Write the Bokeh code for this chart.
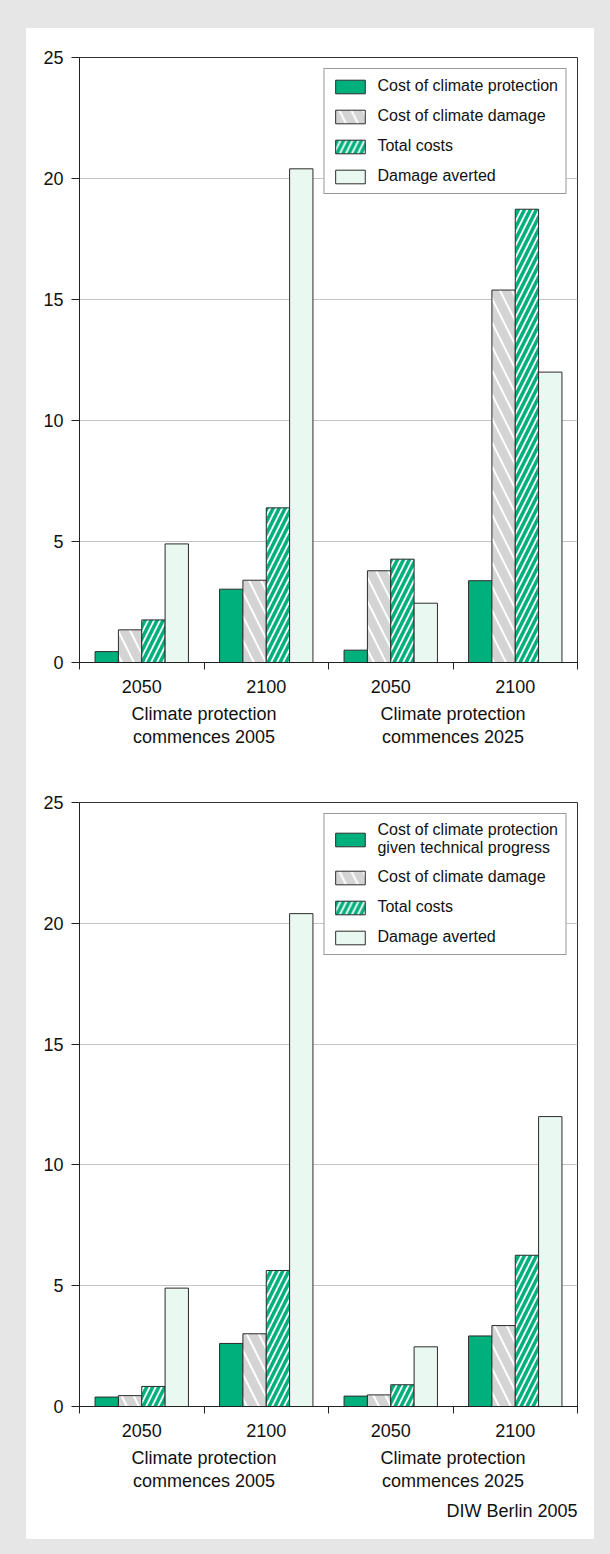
from bokeh.plotting import figure
from bokeh.models import (Range1d, LinearAxis, FixedTicker, Title, ColumnDataSource)
from bokeh.transform import dodge
from bokeh.layouts import column
from bokeh.embed import file_html
from bokeh.resources import INLINE

# ---- data ----
groups = ["Climate protection\ncommences 2005", "Climate protection\ncommences 2025"]
years = ["2050", "2100"]

# chart 1
protection_1 = [0.45, 3.03, 0.51, 3.38]
damage_1 = [1.35, 3.40, 3.79, 15.39]
total_1 = [1.76, 6.39, 4.27, 18.73]
averted_1 = [4.90, 20.40, 2.45, 12.00]

# chart 2
protection_2 = [0.39, 2.61, 0.43, 2.92]
damage_2 = [0.45, 3.01, 0.48, 3.35]
total_2 = [0.83, 5.63, 0.90, 6.26]
averted_2 = [4.90, 20.40, 2.47, 12.00]

labels_1 = ["Cost of climate protection", "Cost of climate damage", "Total costs", "Damage averted"]
labels_2 = ["Cost of climate protection\ngiven technical progress", "Cost of climate damage",
            "Total costs", "Damage averted"]

y_ticks = [0, 5, 10, 15, 20, 25]
source_line = "DIW Berlin 2005"

FONT = "Liberation Sans"
GREEN = "#00b07c"
GREY = "#d4d4d4"
MINT = "#eaf8f2"
EDGE = "#2b2b2b"


def make_chart(series, labels, top_border, bottom_border, frame_h, note=None):
    cats = [(g, y) for g in groups for y in years]
    n = len(cats)
    centers = [i + 0.5 for i in range(n)]
    src = ColumnDataSource(dict(x=centers, a=series[0], b=series[1], c=series[2], d=series[3]))
    p = figure(x_range=Range1d(0, n), y_range=Range1d(0, 25), frame_width=498,
               frame_height=frame_h, x_axis_location=None, toolbar_location=None,
               output_backend="svg", min_border_left=53, min_border_right=17,
               min_border_top=top_border, min_border_bottom=bottom_border,
               background_fill_color="white", border_fill_color="white",
               outline_line_color="#333333", outline_line_width=1)
    w = 0.1875
    offs = [-1.5 * w, -0.5 * w, 0.5 * w, 1.5 * w]
    p.vbar(x=dodge("x", offs[0]), top="a", width=w, source=src,
           fill_color=GREEN, line_color=EDGE, line_width=1, legend_label=labels[0])
    p.vbar(x=dodge("x", offs[1]), top="b", width=w, source=src,
           fill_color=GREY, line_color=EDGE, line_width=1, hatch_pattern="left_diagonal_line",
           hatch_color="white", hatch_scale=24, hatch_weight=2, legend_label=labels[1])
    p.vbar(x=dodge("x", offs[2]), top="c", width=w, source=src,
           fill_color=GREEN, line_color=EDGE, line_width=1, hatch_pattern="right_diagonal_line",
           hatch_color="white", hatch_scale=12, hatch_weight=1.8, legend_label=labels[2])
    p.vbar(x=dodge("x", offs[3]), top="d", width=w, source=src,
           fill_color=MINT, line_color=EDGE, line_width=1, legend_label=labels[3])

    # y axis
    ya = p.yaxis[0]
    ya.ticker = FixedTicker(ticks=y_ticks)
    ya.major_tick_out = 8
    ya.major_tick_in = 0
    ya.minor_tick_line_color = None
    ya.axis_line_color = "#222222"
    ya.major_tick_line_color = "#222222"
    ya.major_label_standoff = 8
    ya.major_label_text_font = FONT
    ya.major_label_text_font_size = "18px"
    ya.major_label_text_color = "#111111"
    p.ygrid.grid_line_color = "#c4c4c4"
    p.xgrid.grid_line_color = None

    # year labels with boundary (minor) ticks
    xa = LinearAxis(ticker=FixedTicker(ticks=centers, minor_ticks=list(range(n + 1))),
                    major_label_overrides={c: cat[1] for c, cat in zip(centers, cats)},
                    major_tick_line_color=None, minor_tick_out=7, minor_tick_in=0,
                    minor_tick_line_color="#222222", axis_line_color="#222222",
                    major_label_standoff=10, major_label_text_font=FONT,
                    major_label_text_font_size="18px", major_label_text_color="#111111")
    p.add_layout(xa, "below")
    gcent = [n / len(groups) * (i + 0.5) for i in range(len(groups))]
    ga = LinearAxis(ticker=FixedTicker(ticks=gcent, minor_ticks=[]),
                    major_label_overrides={c: g for c, g in zip(gcent, groups)},
                    major_tick_line_color=None, minor_tick_line_color=None,
                    axis_line_color=None, major_label_standoff=2,
                    major_label_text_font=FONT, major_label_text_font_size="18px",
                    major_label_text_color="#111111", major_label_text_line_height=1.15)
    p.add_layout(ga, "below")

    if note:
        t = Title(text=note, align="right", text_font=FONT, text_font_size="18px",
                  text_font_style="normal", text_color="#111111", standoff=10)
        p.add_layout(t, "below")

    lg = p.legend[0]
    lg.location = "top_right"
    lg.margin = 11
    lg.padding = 7
    lg.spacing = 10
    lg.glyph_width = 37
    lg.glyph_height = 17
    lg.label_height = 20
    lg.label_standoff = 9
    lg.label_text_font = FONT
    lg.label_text_font_size = "16px"
    lg.label_text_line_height = 1.1
    lg.label_text_color = "#111111"
    lg.border_line_color = "#333333"
    lg.border_line_width = 1
    lg.background_fill_alpha = 1
    return p


p1 = make_chart([protection_1, damage_1, total_1, averted_1], labels_1, 29, 100, 605)
p2 = make_chart([protection_2, damage_2, total_2, averted_2], labels_2, 40, 133, 604,
                note=source_line)

panel = column(p1, p2, spacing=0, styles={"background-color": "white"})
layout = column(panel, spacing=0,
                styles={"background-color": "#e6e6e6", "padding": "28px 16px 15px 26px"})

open("out.html", "w").write(file_html(layout, INLINE))
